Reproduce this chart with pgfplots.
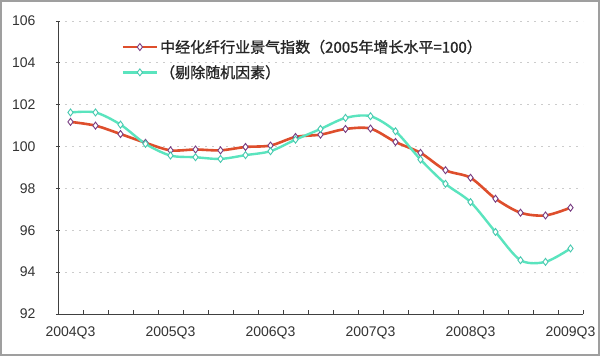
\documentclass[border=0pt]{standalone}
\usepackage{pgfplots}
\pgfplotsset{compat=1.18}
\usepackage{fontspec}
\setmainfont{Liberation Sans}
\newfontfamily\cjk[FakeBold=1.2]{Noto Sans CJK SC}
\definecolor{redline}{RGB}{222,78,44}
\definecolor{greenline}{RGB}{90,228,190}
\definecolor{mkred}{RGB}{120,60,130}
\definecolor{mkgreen}{RGB}{70,200,175}
\begin{document}
\begin{tikzpicture}[x=1pt,y=1pt]
\useasboundingbox (0,0) rectangle (600,356);
\fill[white] (0,0) rectangle (600,356);
\draw[gray!75,line width=2pt] (1,1) rectangle (599,355);
\begin{axis}[
  at={(58pt,42pt)}, anchor=south west,
  scale only axis, width=525pt, height=293pt,
  xmin=-0.5, xmax=20.5, ymin=92, ymax=106,
  axis x line*=bottom, axis y line*=left,
  axis line style={black!75, line width=0.8pt},
  ytick={92,94,...,106},
  xtick={0,4,...,20},
  xticklabels={2004Q3,2005Q3,2006Q3,2007Q3,2008Q3,2009Q3},
  minor xtick={0.5,1.5,...,20.5},
  major x tick style={draw=none},
  tick align=inside,
  major tick length=4pt, minor tick length=4pt,
  minor x tick style={black!75, line width=0.8pt},
  y tick style={black!75, line width=0.8pt, xshift=-2pt},
  ymajorgrids,
  major grid style={gray!40, dash pattern=on 2pt off 5pt, line width=0.8pt},
  tick label style={font=\fontsize{14}{16}\selectfont, text=black!80},
  yticklabel style={xshift=-19pt},
  xticklabel style={yshift=-9pt},
  /pgf/number format/assume math mode=true,
  legend style={at={(0.115,0.95)}, anchor=north west, draw=none, fill=none,
    font=\cjk\fontsize{15}{17}\selectfont, text=black!85, row sep=7pt,
    nodes={inner xsep=2pt}},
  legend cell align=left,
  legend image code/.code={\draw[#1, mark repeat=2, mark phase=2] plot coordinates {(0pt,0pt) (17pt,0pt) (34pt,0pt)};},
]
\addplot[redline, line width=2.6pt, smooth, tension=0.5,
  mark=diamond*, mark size=3.5pt, mark options={fill=white, draw=mkred, line width=0.9pt}]
  coordinates {
  (0,101.18) (1,101.00) (2,100.60) (3,100.18) (4,99.82) (5,99.86) (6,99.82)
  (7,99.98) (8,100.05) (9,100.46) (10,100.57) (11,100.84) (12,100.86) (13,100.22)
  (14,99.70) (15,98.87) (16,98.51) (17,97.51) (18,96.84) (19,96.71) (20,97.08)};
\addlegendentry{中经化纤行业景气指数（2005年增长水平=100）}
\addplot[greenline, line width=2.4pt, smooth, tension=0.5,
  mark=diamond*, mark size=3.5pt, mark options={fill=white, draw=mkgreen, line width=0.9pt}]
  coordinates {
  (0,101.63) (1,101.63) (2,101.05) (3,100.13) (4,99.57) (5,99.49) (6,99.41)
  (7,99.59) (8,99.78) (9,100.33) (10,100.84) (11,101.37) (12,101.45) (13,100.73)
  (14,99.38) (15,98.22) (16,97.35) (17,95.92) (18,94.57) (19,94.49) (20,95.13)};
\addlegendentry{（剔除随机因素）}
\end{axis}
\end{tikzpicture}
\end{document}
